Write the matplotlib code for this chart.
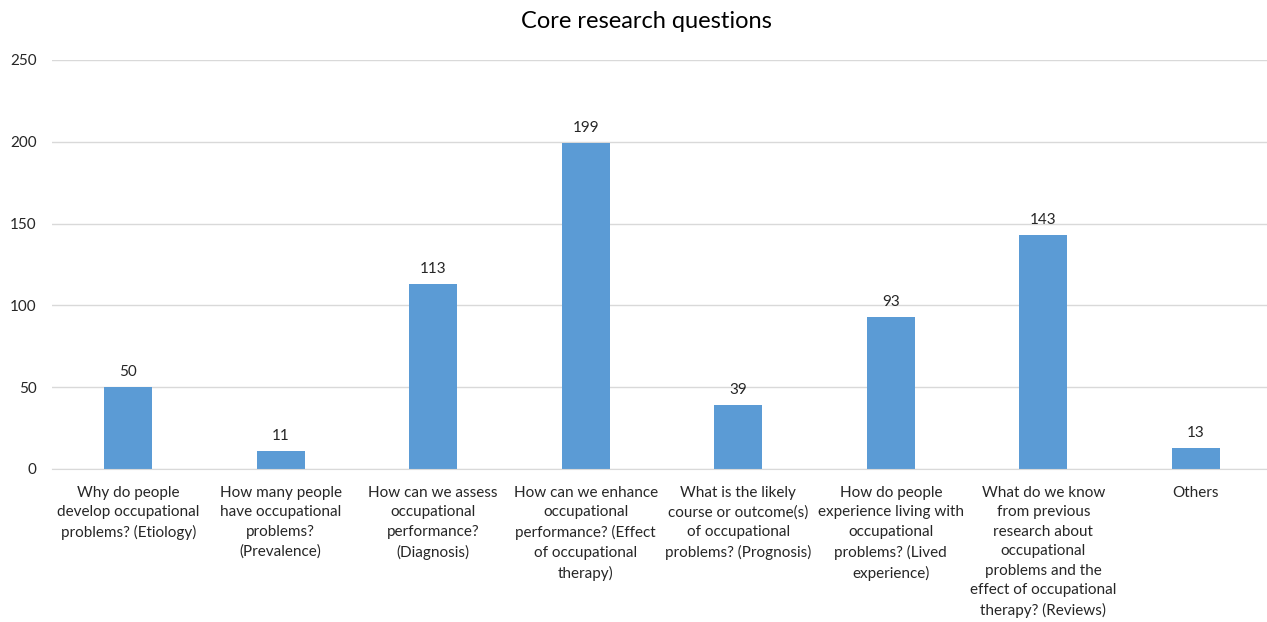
import matplotlib
matplotlib.use("Agg")
import matplotlib.pyplot as plt

categories = [
    "Why do people\ndevelop occupational\nproblems? (Etiology)",
    "How many people\nhave occupational\nproblems?\n(Prevalence)",
    "How can we assess\noccupational\nperformance?\n(Diagnosis)",
    "How can we enhance\noccupational\nperformance? (Effect\nof occupational\ntherapy)",
    "What is the likely\ncourse or outcome(s)\nof occupational\nproblems? (Prognosis)",
    "How do people\nexperience living with\noccupational\nproblems? (Lived\nexperience)",
    "What do we know\nfrom previous\nresearch about\noccupational\nproblems and the\neffect of occupational\ntherapy? (Reviews)",
    "Others",
]
counts = [50, 11, 113, 199, 39, 93, 143, 13]
y_ticks = [0, 50, 100, 150, 200, 250]

plt.rcParams["font.family"] = ["Lato", "DejaVu Sans"]

fig = plt.figure(figsize=(12.67, 6.22), dpi=100)
ax = fig.add_axes([0.041, 0.246, 0.963, 0.6576])

x = range(len(categories))
bars = ax.bar(x, counts, width=0.315, color="#5B9BD5", zorder=2)

# value labels above each bar
for b, v in zip(bars, counts):
    ax.text(b.get_x() + b.get_width() / 2, v + 5, str(v),
            ha="center", va="bottom", fontsize=11, color="#262626")

ax.set_xlim(-0.5, len(categories) - 0.5)
ax.set_ylim(0, 250)
ax.set_yticks(y_ticks)
ax.set_xticks(list(x))
ax.set_xticklabels(categories, fontsize=11, color="#262626", linespacing=1.5)
ax.tick_params(axis="y", labelsize=11, labelcolor="#262626", length=0, pad=11)
ax.tick_params(axis="x", length=0, pad=12)

ax.grid(axis="y", color="#D9D9D9", linewidth=1, zorder=0)
for s in ["left", "right", "top"]:
    ax.spines[s].set_visible(False)
ax.spines["bottom"].set_color("#D9D9D9")

fig.text(0.51, 0.965, "Core research questions", ha="center", va="center",
         fontsize=17, color="#000000")

fig.savefig("out.png", dpi=100)
